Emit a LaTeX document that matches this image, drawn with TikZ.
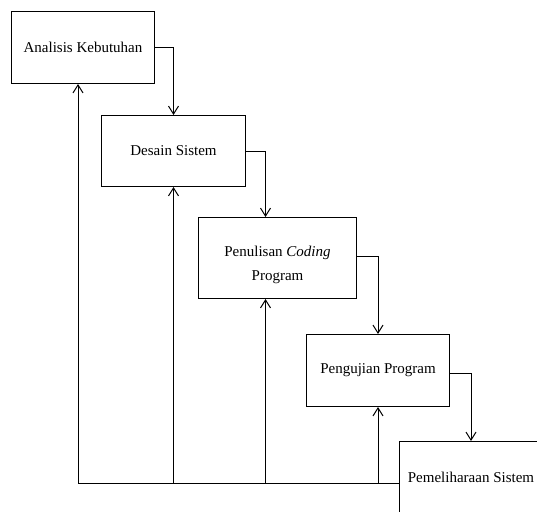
\documentclass[tikz,border=0pt]{standalone}
\usepackage{fontspec}
\setmainfont{Liberation Serif}
\usetikzlibrary{arrows.meta}

\begin{document}
\begin{tikzpicture}[x=1pt,y=-1pt,
    line width=1pt,
    >={Straight Barb[length=8pt,width=10pt]},
    box/.style={draw,rectangle,inner sep=0pt,anchor=north west,
        align=center,font=\fontsize{15}{22}\selectfont}]
    \useasboundingbox (0,0) rectangle (537,511);

    % Phases
    \node[box,minimum width=143pt,minimum height=72pt] (b1) at (11,11) {Analisis Kebutuhan};
    \node[box,minimum width=144pt,minimum height=71pt] (b2) at (101,115) {Desain Sistem};
    \node[box,minimum width=158pt,minimum height=81pt] (b3) at (198,217) {\raisebox{-6pt}[\height][\depth]{\begin{tabular}{@{}c@{}}Penulisan \textit{Coding}\\[2pt]Program\end{tabular}}};
    \node[box,minimum width=143pt,minimum height=72pt] (b4) at (306,334) {Pengujian Program};
    \node[box,minimum width=143pt,minimum height=72pt] (b5) at (399,441) {Pemeliharaan Sistem};

    % Forward flow
    \draw[->] (b1.east) -| (b2.north);
    \draw[->] (b2.east) -| ([xshift=-12pt]b3.north);
    \draw[->] ([yshift=2pt]b3.east) -| (b4.north);
    \draw[->] ([yshift=-3pt]b4.east) -| (b5.north);

    % Feedback
    \coordinate (ret) at ([yshift=-6pt]b5.west);
    \draw[->] (ret) -| ([xshift=-5pt]b1.south);
    \draw[->] (b2.south |- ret) -- (b2.south);
    \draw[->] ([xshift=-12pt]b3.south |- ret) -- ([xshift=-12pt]b3.south);
    \draw[->] (b4.south |- ret) -- (b4.south);
\end{tikzpicture}
\end{document}
